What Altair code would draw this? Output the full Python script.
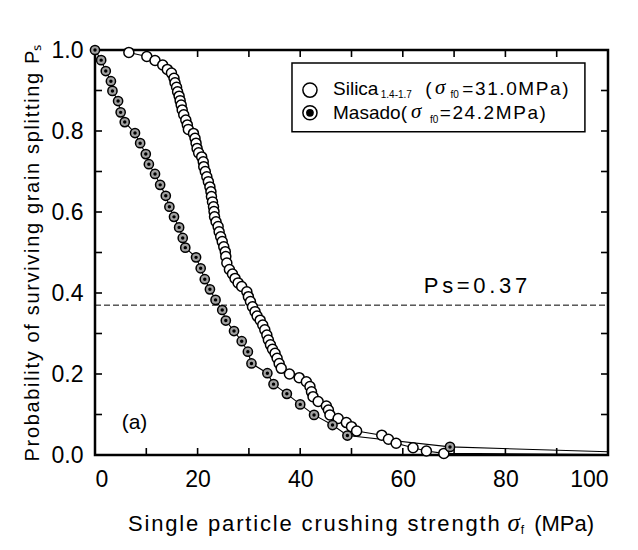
import altair as alt
import pandas as pd

# ---------------- data ----------------
silica_x = [6.6, 10.1, 11.7, 13.2, 14.1, 14.9, 15.4, 15.6, 15.9, 16.1, 16.4, 16.6,
            16.8, 17.0, 17.3, 17.7, 18.0, 18.2, 19.2, 19.5, 19.7, 19.9, 20.2, 20.8,
            21.1, 21.2, 21.5, 21.8, 22.1, 22.4, 22.6, 22.7, 22.9, 23.1, 23.2, 23.3,
            23.6, 24.0, 24.2, 24.5, 24.8, 25.1, 25.4, 25.5, 25.7, 26.2, 26.8, 27.3,
            27.9, 28.6, 29.6, 29.9, 30.3, 30.7, 31.2, 31.6, 32.2, 32.7, 33.1, 33.5,
            33.8, 34.2, 34.6, 35.1, 35.5, 35.9, 36.3, 37.9, 39.8, 41.2, 41.9, 42.2,
            42.5, 43.5, 45.1, 45.5, 45.8, 47.4, 49.0, 50.0, 51.0, 55.9, 57.2, 58.7,
            62.0, 64.6, 68.0]
silica_ps = [0.994, 0.984, 0.974, 0.963, 0.952, 0.943, 0.930, 0.919, 0.908, 0.897, 0.886, 0.875,
             0.864, 0.852, 0.840, 0.827, 0.815, 0.804, 0.794, 0.782, 0.770, 0.757, 0.746, 0.736,
             0.724, 0.712, 0.700, 0.687, 0.675, 0.662, 0.650, 0.638, 0.625, 0.613, 0.601, 0.588,
             0.576, 0.564, 0.551, 0.539, 0.527, 0.514, 0.502, 0.490, 0.474, 0.458, 0.447, 0.436,
             0.425, 0.416, 0.403, 0.391, 0.379, 0.366, 0.354, 0.343, 0.333, 0.321, 0.309, 0.296,
             0.284, 0.272, 0.261, 0.251, 0.239, 0.226, 0.214, 0.200, 0.191, 0.181, 0.169, 0.156,
             0.144, 0.132, 0.121, 0.111, 0.099, 0.090, 0.080, 0.070, 0.059, 0.049, 0.039, 0.029,
             0.018, 0.010, 0.004]

masado_x = [0.0, 1.2, 2.1, 3.1, 3.4, 4.5, 5.0, 5.8, 7.8, 8.8, 9.9, 10.5, 11.7,
            12.7, 13.8, 14.5, 15.4, 16.4, 17.1, 17.6, 19.7, 20.6, 21.4, 22.4, 23.5,
            24.8, 25.5, 27.1, 28.6, 29.8, 30.5, 33.6, 34.8, 37.4, 40.0, 42.7, 46.3,
            49.2, 69.2]
masado_ps = [1.000, 0.975, 0.948, 0.923, 0.899, 0.874, 0.846, 0.822, 0.795, 0.770, 0.743, 0.718, 0.694,
             0.667, 0.640, 0.613, 0.588, 0.562, 0.536, 0.512, 0.488, 0.461, 0.434, 0.409, 0.383,
             0.358, 0.332, 0.306, 0.281, 0.255, 0.226, 0.202, 0.175, 0.151, 0.125, 0.099, 0.074,
             0.048, 0.020]

# curve ends drawn beyond the last measured points
silica_tail_x, silica_tail_ps = [100.0], [0.001]
masado_tail_x, masado_tail_ps = [100.0], [0.008]

x_label_values = [0, 20, 40, 60, 80, 100]
y_label_values = [0.0, 0.2, 0.4, 0.6, 0.8, 1.0]
x_tick_values = [10, 20, 30, 40, 50, 60, 70, 80, 90]
y_tick_values = [0.1, 0.2, 0.3, 0.4, 0.5, 0.6, 0.7, 0.8, 0.9]
ps_reference = [0.37]

# ---------------- layout / style ----------------
W, H = 513, 405
FONT = "Liberation Sans"
SERIF = "Liberation Serif"
TICK = 7
HAIR = "\u200a"
SIXTH = "\u2006"


def spaced(s, sep=HAIR):
    return sep.join(list(s))


xs = alt.Scale(domain=[0, 100], nice=False, zero=False)
ys = alt.Scale(domain=[0, 1], nice=False, zero=False)

AX = alt.Axis(values=x_label_values, ticks=False, domain=False, grid=False,
              labelFont=FONT, labelFontSize=23, labelPadding=13, labelColor="black",
              title=None)
AY = alt.Axis(values=y_label_values, format=".1f", ticks=False, domain=False, grid=False,
              labelFont=FONT, labelFontSize=23, labelPadding=12, labelColor="black",
              title=spaced("Probability of surviving grain splitting P") + "ₛ",
              titleFont=FONT, titleFontSize=20, titleFontWeight="normal",
              titleColor="black", titlePadding=9)


def X(field="x"):
    return alt.X(f"{field}:Q", scale=xs, axis=AX)


def Y(field="ps"):
    return alt.Y(f"{field}:Q", scale=ys, axis=AY)


sil = pd.DataFrame({"x": silica_x, "ps": silica_ps})
mas = pd.DataFrame({"x": masado_x, "ps": masado_ps})
sil_line = pd.concat([sil, pd.DataFrame({"x": silica_tail_x, "ps": silica_tail_ps})], ignore_index=True)
mas_line = pd.concat([mas, pd.DataFrame({"x": masado_tail_x, "ps": masado_tail_ps})], ignore_index=True)

xt = pd.DataFrame({"x": x_tick_values})
yt = pd.DataFrame({"ps": y_tick_values})
ticks = [
    alt.Chart(xt).mark_rule(color="black", strokeWidth=1.6).encode(x=X(), y=alt.value(H), y2=alt.value(H - TICK)),
    alt.Chart(xt).mark_rule(color="black", strokeWidth=1.6).encode(x=X(), y=alt.value(0), y2=alt.value(TICK)),
    alt.Chart(yt).mark_rule(color="black", strokeWidth=1.6).encode(y=Y(), x=alt.value(0), x2=alt.value(TICK)),
    alt.Chart(yt).mark_rule(color="black", strokeWidth=1.6).encode(y=Y(), x=alt.value(W), x2=alt.value(W - TICK)),
]

ref_line = alt.Chart(pd.DataFrame({"ps": ps_reference})).mark_rule(
    color="black", strokeWidth=1, strokeDash=[6, 3]).encode(y=Y(), x=alt.value(0), x2=alt.value(W))

ref_text = alt.Chart(pd.DataFrame({"x": [64.1], "ps": [0.417], "t": [spaced("Ps=0.37", SIXTH)]})).mark_text(
    align="left", baseline="middle", font=FONT, fontSize=22, color="black").encode(x=X(), y=Y(), text="t:N")

panel_text = alt.Chart(pd.DataFrame({"x": [5.2], "ps": [0.079], "t": ["(a)"]})).mark_text(
    align="left", baseline="middle", font=FONT, fontSize=21, color="black").encode(x=X(), y=Y(), text="t:N")

line_sil = alt.Chart(sil_line).mark_line(color="black", strokeWidth=1.1).encode(x=X(), y=Y(), order="x:Q")
line_mas = alt.Chart(mas_line).mark_line(color="black", strokeWidth=1.1).encode(x=X(), y=Y(), order="x:Q")

pts_sil = alt.Chart(sil).mark_point(shape="circle", filled=True, fill="white", stroke="black",
                                   strokeWidth=1.5, size=100, opacity=1).encode(x=X(), y=Y())
pts_mas_outer = alt.Chart(mas).mark_point(shape="circle", filled=True, fill="#a0a0a0", stroke="black",
                                          strokeWidth=1.5, size=85, opacity=1).encode(x=X(), y=Y())
pts_mas_inner = alt.Chart(mas).mark_point(shape="circle", filled=True, fill="black",
                                          size=12, opacity=1).encode(x=X(), y=Y())

# ---------------- legend (in data coordinates) ----------------
legend_box = alt.Chart(pd.DataFrame({"x": [38.4], "x2": [95.5], "ps": [0.798], "ps2": [0.968]})).mark_rect(
    fill="white", stroke="black", strokeWidth=1.5).encode(
    x=X(), x2="x2:Q", y=Y(), y2="ps2:Q")
leg_sym_sil = alt.Chart(pd.DataFrame({"x": [41.9], "ps": [0.901]})).mark_point(
    shape="circle", filled=True, fill="white", stroke="black", strokeWidth=1.5, size=200, opacity=1).encode(x=X(), y=Y())
leg_sym_mas = alt.Chart(pd.DataFrame({"x": [41.9], "ps": [0.845]})).mark_point(
    shape="circle", filled=True, fill="white", stroke="black", strokeWidth=1.5, size=200, opacity=1).encode(x=X(), y=Y())
leg_sym_mas_dot = alt.Chart(pd.DataFrame({"x": [41.9], "ps": [0.845]})).mark_point(
    shape="circle", filled=True, fill="black", size=60, opacity=1).encode(x=X(), y=Y())

leg_main = pd.DataFrame({"x": [46.4, 64.4, 71.6, 46.4, 67.2],
                         "ps": [0.903, 0.903, 0.903, 0.845, 0.845],
                         "t": ["Silica", "(", spaced("=31.0MPa)"), "Masado(", spaced("=24.2MPa)")]})
leg_sub = pd.DataFrame({"x": [55.7, 69.3, 65.3], "ps": [0.888, 0.888, 0.828],
                        "t": ["1.4-1.7", "f0", "f0"]})
leg_sig = pd.DataFrame({"x": [66.3, 61.6], "ps": [0.905, 0.847], "t": ["σ", "σ"]})

leg_main_l = alt.Chart(leg_main).mark_text(align="left", baseline="middle", font=FONT, fontSize=19,
                                           color="black").encode(x=X(), y=Y(), text="t:N")
leg_sub_l = alt.Chart(leg_sub).mark_text(align="left", baseline="middle", font=FONT, fontSize=10,
                                         color="black").encode(x=X(), y=Y(), text="t:N")
leg_sig_l = alt.Chart(leg_sig).mark_text(align="left", baseline="middle", font=SERIF, fontStyle="italic",
                                         fontSize=21, color="black").encode(x=X(), y=Y(), text="t:N")

# ---------------- x title (pieces, to get the subscript) ----------------
xt_main = pd.DataFrame({"x": [78.9], "ps": [-0.170], "t": [spaced("Single particle crushing strength")]})
xt_right = pd.DataFrame({"x": [85.6], "ps": [-0.170], "t": ["(MPa)"]})
xt_sig = pd.DataFrame({"x": [80.4], "ps": [-0.168], "t": ["σ"]})
xt_sub = pd.DataFrame({"x": [83.0], "ps": [-0.186], "t": ["f"]})

xtitle = [
    alt.Chart(xt_main).mark_text(align="right", baseline="middle", font=FONT, fontSize=22,
                                 color="black").encode(x=X(), y=Y(), text="t:N"),
    alt.Chart(xt_right).mark_text(align="left", baseline="middle", font=FONT, fontSize=22,
                                  color="black").encode(x=X(), y=Y(), text="t:N"),
    alt.Chart(xt_sig).mark_text(align="left", baseline="middle", font=SERIF, fontStyle="italic",
                                fontSize=25, color="black").encode(x=X(), y=Y(), text="t:N"),
    alt.Chart(xt_sub).mark_text(align="left", baseline="middle", font=FONT, fontSize=12,
                                color="black").encode(x=X(), y=Y(), text="t:N"),
]

chart = alt.layer(
    ref_line, *ticks, line_sil, line_mas, pts_sil, pts_mas_outer, pts_mas_inner,
    legend_box, leg_sym_sil, leg_sym_mas, leg_sym_mas_dot, leg_main_l, leg_sub_l, leg_sig_l,
    ref_text, panel_text, *xtitle,
).properties(
    width=W, height=H,
    autosize=alt.AutoSizeParams(type="none"),
    padding={"left": 87, "top": 42, "right": 22, "bottom": 87},
    background="white",
).configure_view(stroke="black", strokeWidth=2.5)

chart.save("out.html", embed_options={"renderer": "svg", "actions": False})
